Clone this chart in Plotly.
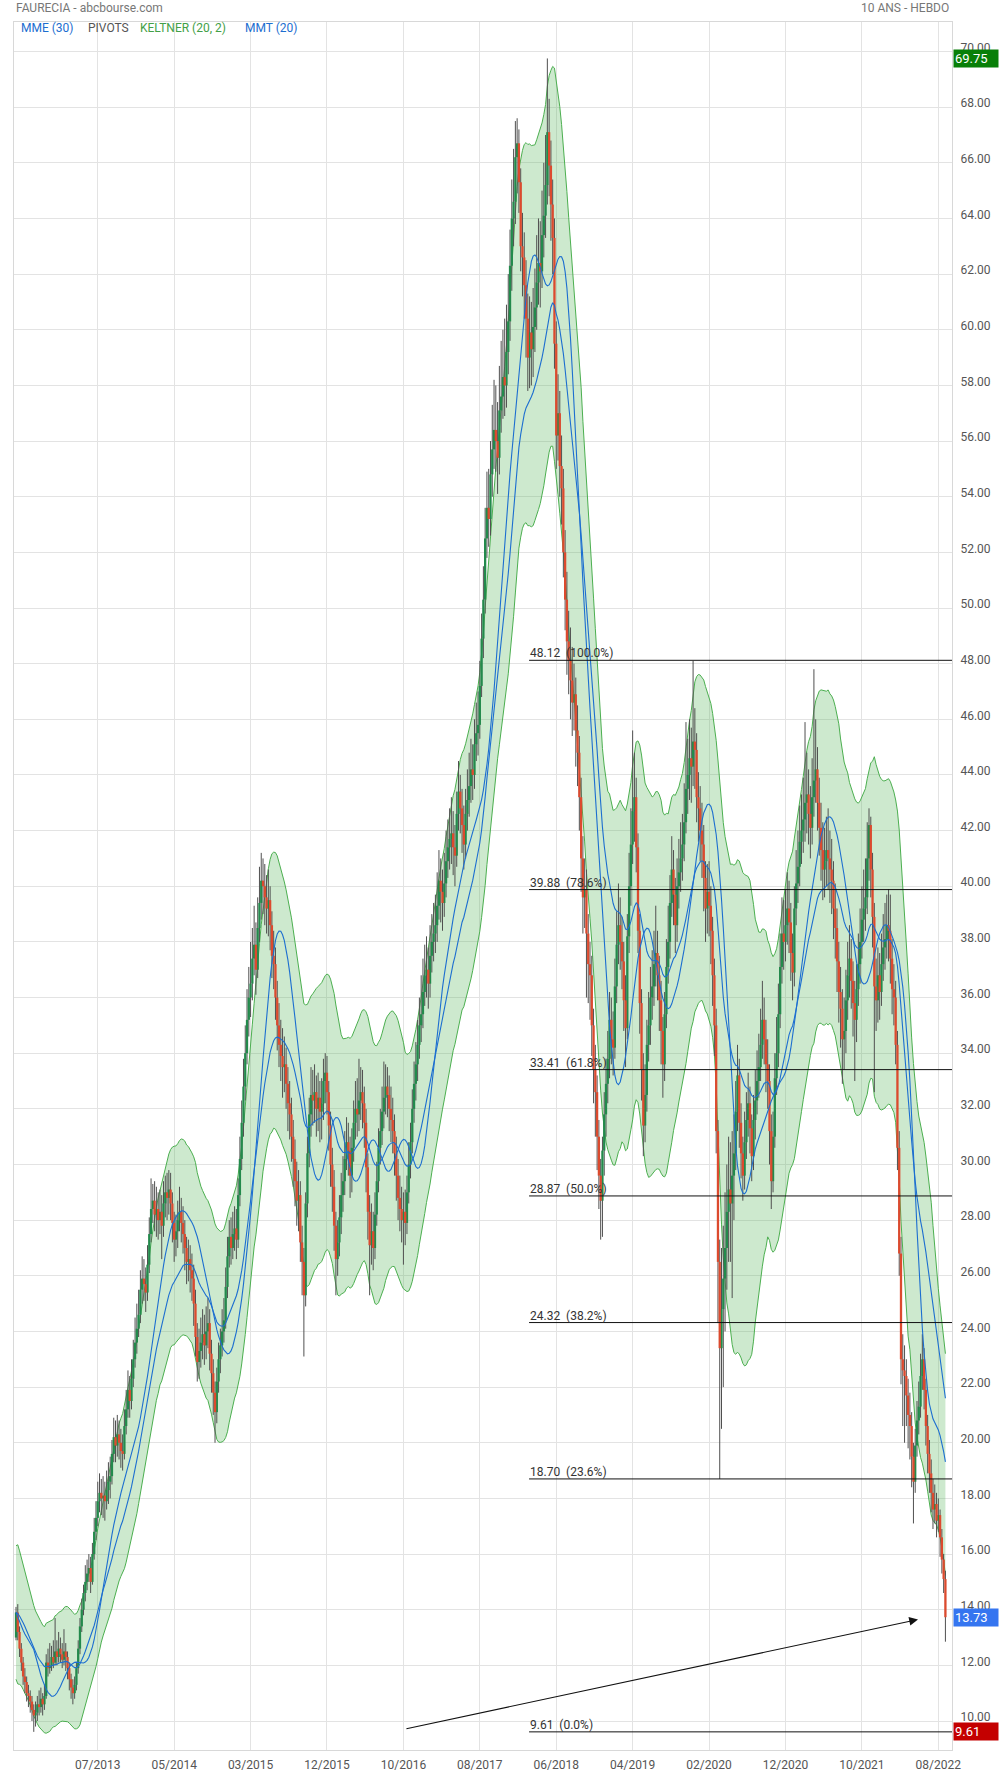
import numpy as np
import pandas as pd
import plotly.graph_objects as go

# ---------------- DATA ----------------
start_date = "2012-08-20"
n_weeks = 524

open_ = [13.0, 13.9, 13.2, 12.6, 12.1, 11.6, 11.4, 11.0, 10.9, 10.7,
 10.4, 10.2, 10.3, 10.6, 10.5, 10.8, 10.6, 10.9, 12.1, 11.9,
 12.0, 12.3, 12.1, 12.5, 12.3, 12.6, 12.4, 12.2, 12.5, 12.3,
 11.9, 11.5, 11.2, 11.0, 11.3, 11.9, 12.6, 13.4, 14.0, 14.6,
 15.0, 15.3, 15.5, 15.0, 16.0, 16.8, 17.3, 17.9, 18.2, 18.0,
 18.1, 17.9, 18.3, 18.6, 18.8, 19.6, 20.2, 19.9, 20.3, 20.0,
 19.7, 19.6, 20.6, 21.2, 21.9, 21.5, 22.3, 23.0, 23.6, 24.1,
 24.6, 25.5, 25.9, 25.7, 25.4, 26.4, 27.5, 28.4, 28.7, 28.2,
 28.4, 28.0, 28.3, 27.8, 28.6, 29.0, 28.8, 29.1, 28.6, 27.9,
 27.3, 27.6, 28.0, 28.3, 27.9, 27.5, 27.0, 26.5, 26.6, 26.2,
 25.9, 25.0, 23.8, 22.9, 23.3, 23.6, 23.9, 23.5, 24.0, 24.3,
 23.2, 22.5, 21.8, 21.1, 22.2, 23.0, 23.5, 24.0, 24.4, 25.6,
 26.7, 27.4, 27.0, 27.5, 27.7, 27.3, 28.9, 30.2, 31.5, 32.8,
 34.0, 35.2, 36.0, 36.5, 37.4, 37.9, 37.0, 38.5, 39.4, 40.2,
 40.0, 39.6, 39.2, 39.5, 38.6, 37.5, 37.2, 36.0, 35.0, 34.3,
 33.9, 33.5, 33.6, 32.9, 32.2, 31.8, 31.0, 30.2, 29.4, 28.7,
 28.9, 27.2, 26.5, 25.3, 28.6, 30.4, 31.8, 32.5, 32.3, 32.6,
 32.0, 32.4, 31.9, 32.2, 33.0, 33.3, 32.6, 31.4, 30.0, 29.2,
 27.8, 26.6, 27.2, 28.1, 28.9, 29.4, 30.2, 30.8, 30.5, 29.6,
 30.6, 31.5, 32.0, 31.8, 32.3, 32.6, 32.2, 31.5, 29.9, 28.3,
 27.1, 27.6, 27.0, 28.2, 29.4, 30.6, 31.2, 31.9, 32.4, 32.8,
 32.5, 32.0, 31.6, 31.2, 30.4, 29.6, 28.8, 28.4, 28.0, 28.3,
 27.9, 29.0, 30.0, 30.8, 32.0, 32.9, 33.6, 34.3, 35.0, 35.4,
 36.2, 36.8, 37.0, 36.5, 37.5, 38.0, 38.3, 38.6, 39.3, 40.2,
 39.8, 39.4, 40.1, 40.9, 41.4, 41.7, 41.9, 41.4, 41.1, 42.6,
 43.4, 42.8, 42.2, 41.5, 42.6, 43.1, 43.6, 44.2, 44.0, 45.1,
 45.5, 45.8, 47.2, 48.9, 50.3, 52.5, 53.6, 53.2, 54.8, 55.7,
 56.4, 56.0, 55.4, 57.1, 57.6, 58.3, 58.0, 59.2, 60.3, 62.3,
 64.0, 64.6, 66.2, 66.7, 65.3, 63.0, 62.6, 61.6, 60.4, 59.0,
 59.9, 59.3, 60.1, 60.8, 61.7, 62.4, 62.1, 63.4, 64.1, 65.2,
 67.1, 65.9, 64.5, 63.3, 59.5, 56.2, 57.0, 55.1, 54.3, 52.0,
 50.3, 48.8, 48.1, 47.4, 46.6, 46.9, 45.6, 44.8, 43.2, 41.0,
 39.6, 39.9, 38.3, 37.2, 36.8, 35.0, 33.4, 32.6, 31.0, 29.6,
 28.7, 30.5, 31.8, 32.9, 33.8, 35.2, 34.5, 34.2, 36.4, 37.9,
 38.6, 38.0, 37.3, 35.9, 34.9, 38.2, 40.0, 41.5, 42.7, 43.2,
 41.4, 38.4, 35.8, 33.4, 31.4, 32.5, 34.3, 35.0, 36.0, 36.4,
 37.2, 37.6, 36.8, 35.9, 34.8, 33.6, 35.4, 37.1, 38.0, 39.4,
 40.6, 39.7, 38.6, 40.0, 40.5, 41.0, 41.5, 42.3, 43.5, 44.0,
 44.6, 44.3, 45.2, 44.9, 43.2, 42.8, 42.0, 41.5, 40.3, 39.2,
 39.8, 39.3, 38.4, 36.8, 35.0, 31.2, 26.5, 23.4, 24.8, 25.9,
 27.0, 28.3, 29.1, 28.6, 29.6, 30.4, 31.9, 33.2, 31.5, 30.4,
 29.6, 30.8, 31.6, 32.2, 31.3, 30.3, 31.6, 32.3, 33.0, 33.5,
 34.3, 35.2, 34.5, 33.6, 33.0, 31.2, 29.4, 31.0, 33.1, 34.0,
 35.4, 37.1, 38.3, 38.0, 38.6, 39.2, 38.7, 37.6, 36.9, 39.2,
 40.1, 40.7, 41.6, 42.0, 42.4, 43.0, 43.3, 42.6, 42.1, 43.2,
 43.8, 44.2, 43.0, 42.1, 41.3, 40.6, 40.9, 41.3, 41.0, 40.6,
 40.2, 39.2, 38.5, 37.3, 36.2, 35.6, 34.5, 34.8, 35.9, 36.8,
 37.4, 36.6, 35.8, 35.2, 36.3, 37.2, 38.0, 38.8, 39.2, 39.6,
 41.0, 42.2, 40.6, 38.9, 36.4, 35.9, 36.8, 36.2, 37.2, 37.8,
 38.1, 38.6, 38.4, 37.4, 36.3, 36.0, 34.3, 30.6, 26.8, 23.0,
 22.6, 22.4, 21.7, 21.0, 20.6, 19.5, 18.6, 19.9, 20.8, 21.3,
 22.4, 23.0, 21.9, 20.6, 19.6, 18.9, 18.2, 17.6, 17.8, 17.2,
 17.4, 16.6, 15.8, 15.1]

high = [14.1, 14.2, 13.4, 12.8, 12.3, 11.9, 11.6, 11.3, 11.1, 10.9,
 10.6, 10.7, 10.9, 11.1, 11.2, 11.0, 11.3, 12.4, 12.6, 12.8,
 12.7, 12.9, 13.7, 12.9, 13.2, 13.0, 12.8, 13.3, 12.8, 12.5,
 12.1, 11.7, 11.5, 11.6, 12.1, 12.9, 13.7, 14.4, 14.9, 15.6,
 15.8, 16.0, 15.9, 16.4, 17.3, 17.9, 18.6, 18.9, 18.7, 18.8,
 18.6, 19.0, 19.3, 19.5, 20.1, 20.9, 20.8, 21.0, 20.8, 20.5,
 20.3, 21.2, 21.9, 22.6, 22.4, 23.0, 23.7, 24.5, 25.0, 25.5,
 26.2, 26.7, 26.6, 26.3, 27.1, 28.1, 29.5, 29.3, 29.4, 29.2,
 29.0, 29.1, 28.9, 29.4, 29.6, 29.7, 29.8, 29.7, 29.0, 28.3,
 28.2, 28.7, 29.2, 28.8, 28.5, 28.0, 27.4, 27.3, 27.1, 26.8,
 26.4, 25.5, 24.3, 24.1, 24.5, 24.8, 24.6, 24.9, 25.2, 24.8,
 23.7, 23.0, 22.2, 22.7, 23.6, 24.1, 24.8, 25.2, 26.3, 27.4,
 28.0, 28.1, 28.3, 28.5, 28.4, 29.5, 31.0, 32.3, 33.8, 35.0,
 36.3, 37.1, 38.0, 38.5, 39.3, 38.7, 39.6, 40.7, 41.2, 41.0,
 40.8, 40.4, 40.6, 40.0, 39.1, 38.4, 37.8, 36.6, 35.8, 35.2,
 34.9, 34.6, 34.2, 33.5, 33.0, 32.4, 31.6, 30.9, 30.1, 29.8,
 29.4, 27.8, 27.0, 29.0, 31.0, 32.4, 33.5, 33.4, 33.6, 33.2,
 33.3, 33.0, 33.1, 33.8, 34.0, 33.9, 33.0, 31.9, 30.6, 29.8,
 28.3, 28.0, 28.9, 29.7, 30.3, 31.2, 31.7, 31.5, 31.0, 31.3,
 32.3, 33.0, 33.1, 33.8, 33.5, 33.4, 32.8, 32.0, 30.4, 28.9,
 28.6, 28.3, 29.0, 30.1, 31.3, 32.0, 32.8, 33.7, 33.6, 33.5,
 33.2, 32.8, 32.4, 31.8, 31.0, 30.2, 29.6, 29.2, 29.0, 29.1,
 29.6, 30.8, 31.5, 32.7, 33.7, 34.4, 35.2, 36.0, 36.8, 37.4,
 37.9, 38.2, 37.8, 38.6, 39.0, 39.4, 39.7, 40.5, 41.3, 41.0,
 40.6, 41.2, 42.0, 42.4, 42.8, 43.2, 42.7, 42.2, 43.4, 44.5,
 44.0, 43.5, 42.9, 43.5, 44.2, 44.8, 45.3, 45.1, 46.0, 46.6,
 47.0, 48.1, 49.8, 51.5, 53.6, 54.9, 55.0, 56.0, 57.3, 58.2,
 58.0, 57.4, 58.7, 59.6, 60.0, 60.4, 60.9, 62.0, 63.6, 65.4,
 66.5, 67.5, 67.6, 67.2, 65.8, 64.2, 63.5, 62.5, 61.3, 61.2,
 61.0, 61.5, 62.2, 63.4, 64.0, 63.9, 65.0, 66.0, 67.0, 69.75,
 68.3, 66.8, 65.4, 64.0, 60.3, 58.4, 57.8, 56.2, 55.0, 52.8,
 51.3, 49.9, 49.3, 48.6, 48.0, 47.5, 46.5, 45.4, 43.9, 41.8,
 41.0, 40.6, 39.0, 38.0, 37.5, 35.6, 34.3, 33.2, 31.6, 30.2,
 31.0, 32.6, 33.8, 34.8, 36.2, 36.0, 35.5, 37.4, 39.1, 40.1,
 39.6, 38.9, 38.0, 36.8, 39.0, 41.2, 42.8, 45.6, 44.8, 43.9,
 41.9, 39.0, 36.3, 34.0, 33.6, 35.2, 36.2, 37.1, 37.7, 38.4,
 39.3, 38.4, 37.5, 36.6, 35.3, 36.2, 38.1, 39.3, 40.4, 41.8,
 41.3, 40.3, 41.0, 41.7, 42.3, 42.6, 43.7, 45.9, 45.3, 46.0,
 45.7, 48.1, 46.4, 45.5, 44.1, 43.6, 43.0, 42.2, 40.9, 40.8,
 40.9, 40.0, 38.9, 37.4, 35.6, 31.6, 27.3, 27.0, 27.8, 29.0,
 30.0, 31.0, 30.8, 31.2, 31.8, 33.0, 34.3, 33.8, 32.2, 31.0,
 31.9, 32.6, 33.3, 32.8, 31.8, 32.5, 33.4, 34.1, 34.7, 35.6,
 36.6, 36.0, 35.2, 34.5, 33.6, 31.8, 31.9, 34.0, 35.3, 36.5,
 38.3, 39.6, 39.5, 39.9, 40.5, 40.2, 39.4, 38.3, 40.0, 41.3,
 42.0, 42.9, 43.3, 43.9, 45.9, 44.8, 44.2, 43.6, 44.6, 47.8,
 46.0, 45.0, 43.9, 43.0, 42.3, 42.1, 42.5, 42.8, 42.0, 41.7,
 40.9, 40.1, 39.2, 38.0, 37.1, 36.3, 36.0, 37.0, 38.0, 38.6,
 38.1, 37.3, 36.6, 37.2, 38.3, 39.2, 40.0, 40.6, 41.0, 42.3,
 42.8, 42.5, 41.2, 39.4, 37.4, 37.8, 37.6, 38.3, 39.0, 39.4,
 39.7, 39.9, 39.7, 38.1, 37.2, 36.6, 34.8, 31.2, 27.4, 23.9,
 23.5, 23.0, 22.3, 21.8, 21.1, 20.0, 20.5, 21.5, 22.2, 23.2,
 23.9, 23.4, 22.3, 21.0, 20.1, 19.4, 18.7, 18.5, 18.2, 18.0,
 17.6, 16.9, 16.0, 15.4]

low = [12.9, 12.9, 12.3, 11.8, 11.3, 11.0, 10.7, 10.5, 10.3, 10.0,
 9.61, 9.8, 10.0, 10.2, 10.3, 10.2, 10.4, 10.8, 11.6, 11.7,
 11.8, 11.9, 12.0, 12.0, 12.1, 12.1, 11.9, 12.0, 11.8, 11.5,
 11.1, 10.8, 10.6, 10.8, 11.1, 11.7, 12.4, 13.2, 13.8, 14.3,
 14.7, 15.0, 14.6, 14.9, 15.8, 16.5, 17.0, 17.5, 17.4, 17.3,
 17.2, 17.6, 17.8, 18.0, 18.5, 19.3, 19.3, 19.5, 19.4, 19.1,
 19.0, 19.4, 20.3, 20.9, 20.9, 21.2, 22.0, 22.7, 23.2, 23.8,
 24.3, 25.0, 25.1, 24.7, 25.1, 26.1, 27.2, 27.9, 27.6, 27.4,
 27.3, 27.5, 26.6, 27.4, 28.1, 28.0, 28.2, 28.0, 27.2, 26.5,
 26.7, 27.0, 27.6, 27.2, 26.8, 26.2, 25.7, 25.8, 25.4, 25.1,
 24.2, 23.1, 22.2, 22.3, 22.7, 23.0, 22.8, 23.0, 23.4, 22.6,
 21.8, 21.0, 20.0, 20.7, 21.8, 22.5, 23.1, 23.6, 24.1, 25.2,
 26.3, 26.4, 26.6, 26.9, 26.6, 27.0, 28.5, 29.8, 31.0, 32.3,
 33.6, 34.6, 35.3, 35.9, 36.8, 36.1, 36.7, 38.0, 38.8, 39.0,
 38.6, 38.3, 38.2, 37.7, 36.7, 36.3, 35.2, 34.1, 33.5, 33.0,
 32.4, 32.6, 32.0, 31.2, 30.9, 30.1, 29.2, 28.5, 27.8, 27.6,
 26.5, 25.3, 23.1, 24.9, 28.1, 29.9, 31.0, 31.4, 31.5, 31.0,
 31.2, 30.8, 30.9, 31.6, 32.2, 31.8, 30.5, 29.2, 28.3, 26.9,
 25.3, 26.0, 26.7, 27.5, 28.3, 28.9, 29.8, 29.6, 28.8, 29.0,
 30.1, 30.9, 31.0, 31.2, 31.6, 31.3, 30.6, 29.0, 27.3, 25.3,
 26.4, 26.2, 26.6, 27.8, 29.0, 30.0, 30.7, 31.3, 31.8, 31.7,
 31.2, 30.8, 30.4, 29.6, 28.7, 28.0, 27.6, 27.2, 26.4, 27.1,
 27.5, 28.6, 29.5, 30.4, 31.5, 32.3, 33.0, 33.8, 34.4, 34.9,
 35.7, 36.0, 35.6, 36.0, 36.9, 37.3, 37.6, 38.0, 38.8, 38.7,
 38.4, 38.9, 39.6, 40.3, 40.6, 40.8, 40.4, 40.0, 40.7, 42.0,
 41.9, 41.2, 40.6, 41.0, 42.0, 42.5, 43.0, 43.1, 43.5, 44.5,
 44.7, 45.3, 46.8, 48.2, 49.8, 51.8, 52.2, 52.6, 54.0, 55.0,
 54.9, 54.1, 54.8, 56.3, 56.8, 56.9, 57.2, 58.4, 59.6, 61.4,
 63.0, 63.8, 64.9, 64.2, 62.1, 61.2, 60.4, 59.0, 57.8, 57.9,
 58.0, 58.3, 59.2, 60.0, 60.9, 60.8, 61.5, 62.6, 63.3, 64.5,
 64.8, 63.2, 62.0, 58.6, 55.0, 55.3, 54.0, 53.0, 51.1, 49.2,
 47.6, 46.9, 46.0, 45.4, 45.6, 44.3, 43.6, 42.0, 39.8, 38.3,
 38.5, 36.0, 35.8, 35.2, 33.9, 32.2, 31.0, 29.8, 28.4, 27.3,
 27.4, 29.6, 31.0, 32.2, 33.1, 33.6, 33.2, 33.8, 35.8, 37.2,
 37.0, 36.3, 34.8, 33.5, 34.5, 37.6, 39.3, 40.8, 41.6, 40.5,
 37.6, 34.7, 32.3, 30.3, 30.8, 31.9, 33.7, 34.3, 35.2, 35.7,
 36.4, 35.9, 34.8, 33.6, 32.4, 33.0, 34.9, 36.5, 37.4, 38.9,
 38.6, 37.6, 38.0, 39.2, 39.8, 40.2, 40.9, 41.9, 42.6, 43.1,
 43.0, 43.6, 43.5, 42.3, 41.6, 40.9, 40.3, 39.1, 38.0, 38.3,
 38.2, 37.2, 35.7, 33.9, 30.4, 24.3, 18.70, 20.5, 22.0, 24.0,
 25.5, 26.5, 26.5, 25.2, 28.0, 29.8, 31.2, 30.6, 29.5, 28.7,
 29.1, 30.2, 31.0, 30.4, 29.4, 29.8, 30.9, 31.8, 32.4, 33.0,
 33.8, 33.6, 32.6, 32.0, 30.0, 28.4, 29.0, 30.6, 32.5, 33.5,
 34.9, 36.5, 37.0, 37.3, 37.9, 37.6, 36.6, 35.9, 36.4, 38.6,
 39.4, 40.0, 40.8, 41.2, 41.6, 41.9, 41.5, 41.0, 41.5, 42.5,
 43.0, 42.0, 41.1, 40.2, 39.5, 39.6, 40.0, 39.9, 39.4, 39.0,
 38.1, 37.4, 36.2, 35.1, 34.2, 32.9, 33.4, 34.0, 35.2, 36.0,
 35.6, 34.6, 33.0, 34.4, 35.7, 36.5, 37.4, 38.0, 38.4, 39.0,
 40.2, 39.6, 37.8, 32.6, 34.8, 35.1, 35.2, 35.7, 36.6, 37.0,
 37.4, 37.3, 36.5, 35.4, 35.0, 33.6, 29.8, 26.0, 22.1, 20.6,
 20.0, 20.6, 19.8, 19.4, 18.4, 17.1, 18.2, 19.5, 20.3, 20.9,
 21.9, 21.2, 19.9, 18.9, 18.2, 17.5, 16.9, 17.1, 16.6, 16.8,
 15.9, 15.3, 14.6, 12.85]

close = [13.9, 13.2, 12.6, 12.1, 11.6, 11.4, 11.0, 10.9, 10.7, 10.4,
 10.2, 10.3, 10.6, 10.5, 10.8, 10.6, 10.9, 12.1, 11.9, 12.0,
 12.3, 12.1, 12.5, 12.3, 12.6, 12.4, 12.2, 12.5, 12.3, 11.9,
 11.5, 11.2, 11.0, 11.3, 11.9, 12.6, 13.4, 14.0, 14.6, 15.0,
 15.3, 15.5, 15.0, 16.0, 16.8, 17.3, 17.9, 18.2, 18.0, 18.1,
 17.9, 18.3, 18.6, 18.8, 19.6, 20.2, 19.9, 20.3, 20.0, 19.7,
 19.6, 20.6, 21.2, 21.9, 21.5, 22.3, 23.0, 23.6, 24.1, 24.6,
 25.5, 25.9, 25.7, 25.4, 26.4, 27.5, 28.4, 28.7, 28.2, 28.4,
 28.0, 28.3, 27.8, 28.6, 29.0, 28.8, 29.1, 28.6, 27.9, 27.3,
 27.6, 28.0, 28.3, 27.9, 27.5, 27.0, 26.5, 26.6, 26.2, 25.9,
 25.0, 23.8, 22.9, 23.3, 23.6, 23.9, 23.5, 24.0, 24.3, 23.2,
 22.5, 21.8, 21.1, 22.2, 23.0, 23.5, 24.0, 24.4, 25.6, 26.7,
 27.4, 27.0, 27.5, 27.7, 27.3, 28.9, 30.2, 31.5, 32.8, 34.0,
 35.2, 36.0, 36.5, 37.4, 37.9, 37.0, 38.5, 39.4, 40.2, 40.0,
 39.6, 39.2, 39.5, 38.6, 37.5, 37.2, 36.0, 35.0, 34.3, 33.9,
 33.5, 33.6, 32.9, 32.2, 31.8, 31.0, 30.2, 29.4, 28.7, 28.9,
 27.2, 26.5, 25.3, 28.6, 30.4, 31.8, 32.5, 32.3, 32.6, 32.0,
 32.4, 31.9, 32.2, 33.0, 33.3, 32.6, 31.4, 30.0, 29.2, 27.8,
 26.6, 27.2, 28.1, 28.9, 29.4, 30.2, 30.8, 30.5, 29.6, 30.6,
 31.5, 32.0, 31.8, 32.3, 32.6, 32.2, 31.5, 29.9, 28.3, 27.1,
 27.6, 27.0, 28.2, 29.4, 30.6, 31.2, 31.9, 32.4, 32.8, 32.5,
 32.0, 31.6, 31.2, 30.4, 29.6, 28.8, 28.4, 28.0, 28.3, 27.9,
 29.0, 30.0, 30.8, 32.0, 32.9, 33.6, 34.3, 35.0, 35.4, 36.2,
 36.8, 37.0, 36.5, 37.5, 38.0, 38.3, 38.6, 39.3, 40.2, 39.8,
 39.4, 40.1, 40.9, 41.4, 41.7, 41.9, 41.4, 41.1, 42.6, 43.4,
 42.8, 42.2, 41.5, 42.6, 43.1, 43.6, 44.2, 44.0, 45.1, 45.5,
 45.8, 47.2, 48.9, 50.3, 52.5, 53.6, 53.2, 54.8, 55.7, 56.4,
 56.0, 55.4, 57.1, 57.6, 58.3, 58.0, 59.2, 60.3, 62.3, 64.0,
 64.6, 66.2, 66.7, 65.3, 63.0, 62.6, 61.6, 60.4, 59.0, 59.9,
 59.3, 60.1, 60.8, 61.7, 62.4, 62.1, 63.4, 64.1, 65.2, 67.1,
 65.9, 64.5, 63.3, 59.5, 56.2, 57.0, 55.1, 54.3, 52.0, 50.3,
 48.8, 48.1, 47.4, 46.6, 46.9, 45.6, 44.8, 43.2, 41.0, 39.6,
 39.9, 38.3, 37.2, 36.8, 35.0, 33.4, 32.6, 31.0, 29.6, 28.7,
 30.5, 31.8, 32.9, 33.8, 35.2, 34.5, 34.2, 36.4, 37.9, 38.6,
 38.0, 37.3, 35.9, 34.9, 38.2, 40.0, 41.5, 42.7, 43.2, 41.4,
 38.4, 35.8, 33.4, 31.4, 32.5, 34.3, 35.0, 36.0, 36.4, 37.2,
 37.6, 36.8, 35.9, 34.8, 33.6, 35.4, 37.1, 38.0, 39.4, 40.6,
 39.7, 38.6, 40.0, 40.5, 41.0, 41.5, 42.3, 43.5, 44.0, 44.6,
 44.3, 45.2, 44.9, 43.2, 42.8, 42.0, 41.5, 40.3, 39.2, 39.8,
 39.3, 38.4, 36.8, 35.0, 31.2, 26.5, 23.4, 24.8, 25.9, 27.0,
 28.3, 29.1, 28.6, 29.6, 30.4, 31.9, 33.2, 31.5, 30.4, 29.6,
 30.8, 31.6, 32.2, 31.3, 30.3, 31.6, 32.3, 33.0, 33.5, 34.3,
 35.2, 34.5, 33.6, 33.0, 31.2, 29.4, 31.0, 33.1, 34.0, 35.4,
 37.1, 38.3, 38.0, 38.6, 39.2, 38.7, 37.6, 36.9, 39.2, 40.1,
 40.7, 41.6, 42.0, 42.4, 43.0, 43.3, 42.6, 42.1, 43.2, 43.8,
 44.2, 43.0, 42.1, 41.3, 40.6, 40.9, 41.3, 41.0, 40.6, 40.2,
 39.2, 38.5, 37.3, 36.2, 35.6, 34.5, 34.8, 35.9, 36.8, 37.4,
 36.6, 35.8, 35.2, 36.3, 37.2, 38.0, 38.8, 39.2, 39.6, 41.0,
 42.2, 40.6, 38.9, 36.4, 35.9, 36.8, 36.2, 37.2, 37.8, 38.1,
 38.6, 38.4, 37.4, 36.3, 36.0, 34.3, 30.6, 26.8, 23.0, 22.6,
 22.4, 21.7, 21.0, 20.6, 19.5, 18.6, 19.9, 20.8, 21.3, 22.4,
 23.0, 21.9, 20.6, 19.6, 18.9, 18.2, 17.6, 17.8, 17.2, 17.4,
 16.6, 15.8, 15.1, 13.73]

# Fibonacci retracement (as drawn on the chart)
fib_levels = [9.61, 18.70, 24.32, 28.87, 33.41, 39.88, 48.12]
fib_pcts = [0.0, 23.6, 38.2, 50.0, 61.8, 78.6, 100.0]
fib_start = "2018-03-03"

# user-drawn arrow (date, price)
arrow_from = ("2016-10-30", 9.71)
arrow_to = ("2022-05-13", 13.65)

tick_week_index = [46, 89, 132, 175, 218, 261, 304, 347, 390, 433, 476, 519]

# ---------------- COMPUTATIONS ----------------
dates = pd.date_range(start_date, periods=n_weeks, freq="7D")
o = pd.Series(open_, dtype=float)
h = pd.Series(high, dtype=float)
l = pd.Series(low, dtype=float)
c = pd.Series(close, dtype=float)

hh = np.maximum(h, np.maximum(o, c))
ll = np.minimum(l, np.minimum(o, c))

ema20 = c.ewm(span=20, adjust=False).mean()
prev_c = c.shift(1).fillna(o)
tr = pd.concat([hh - ll, (hh - prev_c).abs(), (ll - prev_c).abs()], axis=1).max(axis=1)
atr = tr.rolling(20, min_periods=1).mean()
k_up = ema20 + 2 * atr
k_dn = ema20 - 2 * atr

mme30 = c.ewm(span=30, adjust=False).mean()
mmt20 = c.rolling(10, min_periods=1).mean().rolling(11, min_periods=1).mean()

# ---------------- FIGURE ----------------
W, H = 1000, 1774
ML, MR, MT, MB = 14, 48, 22, 24
Y0, Y1 = 8.958, 71.06
x_lo = dates[0] - pd.Timedelta(days=7 * 1.125)
x_hi = dates[0] + pd.Timedelta(days=7 * 526.7)

GREEN_BODY = "#238a4c"
RED_BODY = "#dc4a2e"
WICK = "#505050"
BLUE = "#1c6ed0"
KGREEN = "#4caf50"

fig = go.Figure()

# Keltner band
fig.add_trace(go.Scatter(x=dates, y=k_dn, mode="lines",
                         line=dict(color=KGREEN, width=1), hoverinfo="skip"))
fig.add_trace(go.Scatter(x=dates, y=k_up, mode="lines", fill="tonexty",
                         fillcolor="rgba(76,175,80,0.28)",
                         line=dict(color=KGREEN, width=1), hoverinfo="skip"))

# wicks
wx, wy = [], []
for d, lo_, hi_ in zip(dates, ll, hh):
    wx += [d, d, None]
    wy += [lo_, hi_, None]
fig.add_trace(go.Scatter(x=wx, y=wy, mode="lines",
                         line=dict(color=WICK, width=1), hoverinfo="skip"))

# bodies (thick segments from open to close)
ux, uy, dx, dy = [], [], [], []
for d, oo, cc in zip(dates, o, c):
    lo_b, hi_b = min(oo, cc), max(oo, cc)
    if hi_b - lo_b < 0.06:
        mid = (hi_b + lo_b) / 2
        lo_b, hi_b = mid - 0.03, mid + 0.03
    if cc >= oo:
        ux += [d, d, None]
        uy += [lo_b, hi_b, None]
    else:
        dx += [d, d, None]
        dy += [lo_b, hi_b, None]
fig.add_trace(go.Scatter(x=ux, y=uy, mode="lines",
                         line=dict(color=GREEN_BODY, width=2.3), hoverinfo="skip"))
fig.add_trace(go.Scatter(x=dx, y=dy, mode="lines",
                         line=dict(color=RED_BODY, width=2.3), hoverinfo="skip"))

# moving averages
fig.add_trace(go.Scatter(x=dates, y=mme30, mode="lines",
                         line=dict(color=BLUE, width=1.1), hoverinfo="skip"))
fig.add_trace(go.Scatter(x=dates, y=mmt20, mode="lines",
                         line=dict(color=BLUE, width=1.1), hoverinfo="skip"))

# Fibonacci lines
shapes = []
annotations = []
for lv, pc in zip(fib_levels, fib_pcts):
    shapes.append(dict(type="line", xref="x", yref="y", x0=fib_start, x1=x_hi,
                       y0=lv, y1=lv, line=dict(color="#111111", width=1)))
    annotations.append(dict(x=fib_start, y=lv, xref="x", yref="y",
                            text=f"{lv:.2f}  ({pc:.1f}%)", showarrow=False,
                            xanchor="left", yanchor="bottom", xshift=-1, yshift=-2,
                            font=dict(family="Roboto", size=12, color="#333333")))

# arrow
annotations.append(dict(x=arrow_to[0], y=arrow_to[1], ax=arrow_from[0], ay=arrow_from[1],
                        xref="x", yref="y", axref="x", ayref="y", text="",
                        showarrow=True, arrowhead=2, arrowsize=1.6, arrowwidth=1.1,
                        arrowcolor="#111111"))


def px_x(px):
    return (px - ML) / (W - ML - MR)


def px_y(py):
    return (H - MB - py) / (H - MT - MB)


# header texts
annotations.append(dict(x=px_x(14), y=px_y(8), xref="paper", yref="paper",
                        text="FAURECIA - abcbourse.com", showarrow=False,
                        xanchor="left", yanchor="middle",
                        font=dict(family="Roboto", size=12, color="#777777")))
annotations.append(dict(x=px_x(951), y=px_y(8), xref="paper", yref="paper",
                        text="10 ANS - HEBDO", showarrow=False,
                        xanchor="right", yanchor="middle",
                        font=dict(family="Roboto", size=12, color="#777777")))

# indicator legend
legend_items = [("MME (30)", BLUE, 19), ("PIVOTS", "#555555", 86),
                ("KELTNER (20, 2)", "#43a047", 138), ("MMT (20)", BLUE, 243)]
for txt, col, xp in legend_items:
    annotations.append(dict(x=px_x(xp), y=px_y(28.5), xref="paper", yref="paper",
                            text=txt, showarrow=False, xanchor="left", yanchor="middle",
                            font=dict(family="Roboto", size=12, color=col)))

# price tags
tags = [(float(hh.max()), "#087f08"), (float(c.iloc[-1]), "#3575f0"), (float(ll.min()), "#c40000")]
for val, col in tags:
    annotations.append(dict(x=1, y=val, xref="paper", yref="y", text=f"{val:.2f}",
                            showarrow=False, xanchor="left", yanchor="middle", xshift=1,
                            bgcolor=col, width=42, align="left", borderpad=1,
                            font=dict(family="Roboto", size=13, color="white")))

fig.update_layout(
    width=W, height=H,
    margin=dict(l=ML, r=MR, t=MT, b=MB, autoexpand=False),
    paper_bgcolor="white", plot_bgcolor="white",
    showlegend=False,
    font=dict(family="Roboto", size=12, color="#555555"),
    shapes=shapes, annotations=annotations,
    xaxis=dict(type="date", range=[x_lo, x_hi], automargin=False,
               tickvals=[dates[i] for i in tick_week_index], tickformat="%m/%Y",
               showgrid=True, gridcolor="#e3e3e3", gridwidth=1,
               showline=True, linecolor="#d8d8d8", mirror=True,
               zeroline=False, ticks="", ticklabelstandoff=4,
               tickfont=dict(family="Roboto", size=12, color="#555555")),
    yaxis=dict(side="right", range=[Y0, Y1], dtick=2, tick0=0, tickformat=".2f",
               automargin=False,
               showgrid=True, gridcolor="#e3e3e3", gridwidth=1,
               showline=True, linecolor="#d8d8d8", mirror=True,
               zeroline=False, ticks="", ticklabelstandoff=5, ticklabelshift=-4,
               tickfont=dict(family="Roboto", size=12, color="#555555")),
)

# remove the default page margin so the figure sits at the window's top-left corner
fig.write_html("out.html", config={"displayModeBar": False},
               post_script="document.body.style.margin='0px';")
